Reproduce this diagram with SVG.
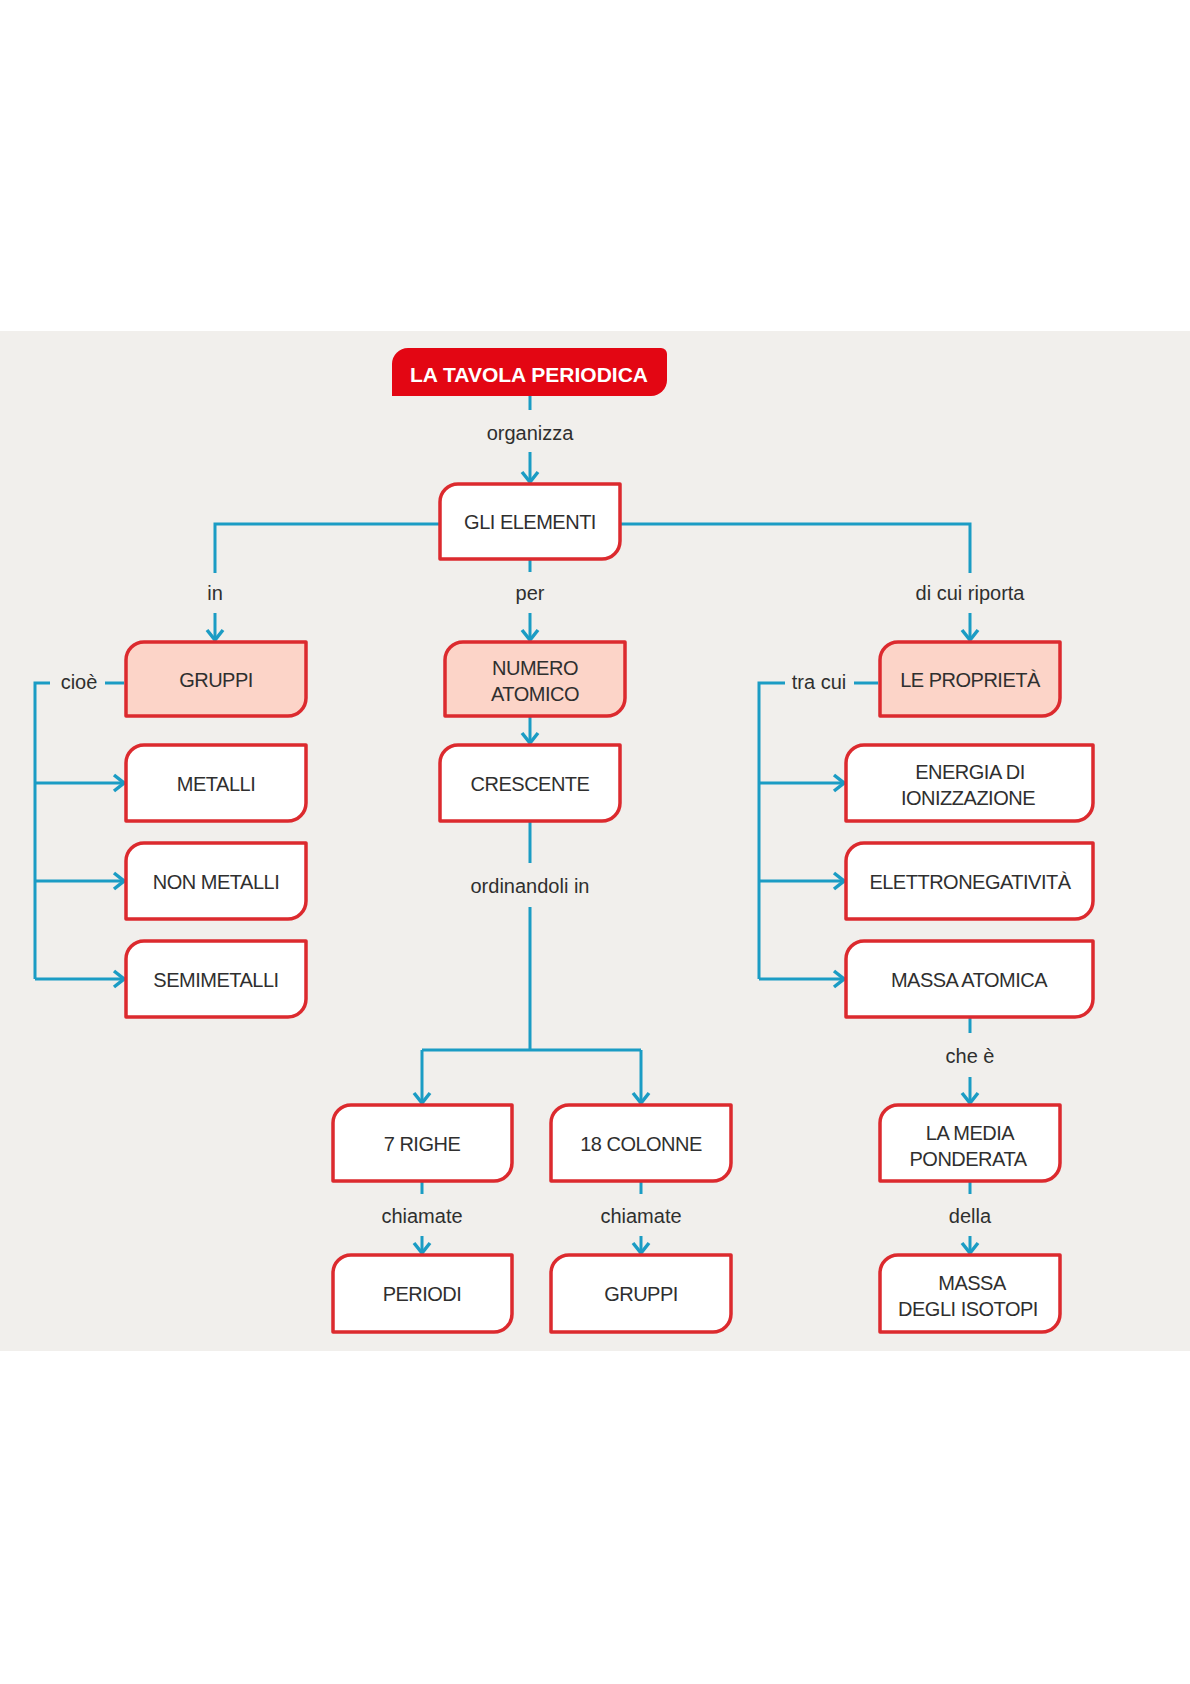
<svg xmlns="http://www.w3.org/2000/svg" width="1190" height="1684" viewBox="0 0 1190 1684">
<style>
.bg{fill:#f1efec}
.n{fill:#ffffff;stroke:#dc2a2e;stroke-width:3.5;stroke-linejoin:round}
.p{fill:#fcd4c8}
.t{font-family:"Liberation Sans",Arial,sans-serif;font-size:20px;fill:#2f2f2f;text-anchor:middle;letter-spacing:-0.5px}
.tt{font-family:"Liberation Sans",Arial,sans-serif;font-size:21px;font-weight:bold;fill:#ffffff;text-anchor:middle}
.l{font-family:"Liberation Sans",Arial,sans-serif;font-size:20px;fill:#2f2f2f;text-anchor:middle}
.c{fill:none;stroke:#1b9cc4;stroke-width:3}
.a{marker-end:url(#ah)}
</style>
<defs>
<marker id="ah" viewBox="0 0 14 20" refX="12" refY="10" markerWidth="14" markerHeight="20" orient="auto" markerUnits="userSpaceOnUse">
<path d="M2,2 L12,10 L2,18" fill="none" stroke="#1b9cc4" stroke-width="3.5"/>
</marker>
</defs>
<rect class="bg" x="0" y="331" width="1190" height="1020"/>

<g id="connectors">
<path class="c" d="M530,396 V410"/>
<path class="c a" d="M530,452 V482"/>
<path class="c" d="M440,524 H215 V573"/>
<path class="c a" d="M215,613 V640"/>
<path class="c" d="M620,524 H970 V573"/>
<path class="c a" d="M970,613 V640"/>
<path class="c" d="M530,559 V572"/>
<path class="c a" d="M530,613 V640"/>
<path class="c" d="M124,683 H105"/>
<path class="c" d="M50,683 H35 V979"/>
<path class="c a" d="M35,783 H124"/>
<path class="c a" d="M35,881 H124"/>
<path class="c a" d="M35,979 H124"/>
<path class="c" d="M878,683 H854"/>
<path class="c" d="M785,683 H759 V979"/>
<path class="c a" d="M759,783 H844"/>
<path class="c a" d="M759,881 H844"/>
<path class="c a" d="M759,979 H844"/>
<path class="c a" d="M530,716 V743"/>
<path class="c" d="M530,821 V863"/>
<path class="c" d="M530,907 V1050 M422,1050 H641"/>
<path class="c a" d="M422,1050 V1103"/>
<path class="c a" d="M641,1050 V1103"/>
<path class="c" d="M422,1182 V1194"/>
<path class="c a" d="M422,1236 V1253"/>
<path class="c" d="M641,1182 V1194"/>
<path class="c a" d="M641,1236 V1253"/>
<path class="c" d="M970,1017 V1033"/>
<path class="c a" d="M970,1077 V1103"/>
<path class="c" d="M970,1182 V1194"/>
<path class="c a" d="M970,1236 V1253"/>
<text class="l" x="530" y="440">organizza</text>
<text class="l" x="215" y="600">in</text>
<text class="l" x="530" y="600">per</text>
<text class="l" x="970" y="600">di cui riporta</text>
<text class="l" x="79" y="689">cioè</text>
<text class="l" x="819" y="689">tra cui</text>
<text class="l" x="530" y="893">ordinandoli in</text>
<text class="l" x="422" y="1223">chiamate</text>
<text class="l" x="641" y="1223">chiamate</text>
<text class="l" x="970" y="1063">che è</text>
<text class="l" x="970" y="1223">della</text>
</g>

<g id="n-title">
<path d="M392,396 V364 A16 16 0 0 1 408,348 H661 A6 6 0 0 1 667,354 V380 A16 16 0 0 1 651,396 Z" fill="#e30613"/>
<text class="tt" x="529" y="382">LA TAVOLA PERIODICA</text>
</g>
<g id="n-elementi">
<path class="n" d="M440,559 V502 A18 18 0 0 1 458,484 H620 V541 A18 18 0 0 1 602,559 Z"/>
<text class="t" x="530" y="529">GLI ELEMENTI</text>
</g>
<g id="n-gruppi">
<path class="n p" d="M126,716 V660 A18 18 0 0 1 144,642 H306 V698 A18 18 0 0 1 288,716 Z"/>
<text class="t" x="216" y="687">GRUPPI</text>
</g>
<g id="n-numero">
<path class="n p" d="M445,716 V660 A18 18 0 0 1 463,642 H625 V698 A18 18 0 0 1 607,716 Z"/>
<text class="t" x="535" y="675">NUMERO</text>
<text class="t" x="535" y="701">ATOMICO</text>
</g>
<g id="n-proprieta">
<path class="n p" d="M880,716 V660 A18 18 0 0 1 898,642 H1060 V698 A18 18 0 0 1 1042,716 Z"/>
<text class="t" x="970" y="687">LE PROPRIETÀ</text>
</g>
<g id="n-metalli">
<path class="n" d="M126,821 V763 A18 18 0 0 1 144,745 H306 V803 A18 18 0 0 1 288,821 Z"/>
<text class="t" x="216" y="791">METALLI</text>
</g>
<g id="n-nonmetalli">
<path class="n" d="M126,919 V861 A18 18 0 0 1 144,843 H306 V901 A18 18 0 0 1 288,919 Z"/>
<text class="t" x="216" y="889">NON METALLI</text>
</g>
<g id="n-semimetalli">
<path class="n" d="M126,1017 V959 A18 18 0 0 1 144,941 H306 V999 A18 18 0 0 1 288,1017 Z"/>
<text class="t" x="216" y="987">SEMIMETALLI</text>
</g>
<g id="n-crescente">
<path class="n" d="M440,821 V763 A18 18 0 0 1 458,745 H620 V803 A18 18 0 0 1 602,821 Z"/>
<text class="t" x="530" y="791">CRESCENTE</text>
</g>
<g id="n-energia">
<path class="n" d="M846,821 V763 A18 18 0 0 1 864,745 H1093 V803 A18 18 0 0 1 1075,821 Z"/>
<text class="t" x="970" y="779">ENERGIA DI</text>
<text class="t" x="968" y="805">IONIZZAZIONE</text>
</g>
<g id="n-elettronegativita">
<path class="n" d="M846,919 V861 A18 18 0 0 1 864,843 H1093 V901 A18 18 0 0 1 1075,919 Z"/>
<text class="t" x="970" y="889">ELETTRONEGATIVITÀ</text>
</g>
<g id="n-massa">
<path class="n" d="M846,1017 V959 A18 18 0 0 1 864,941 H1093 V999 A18 18 0 0 1 1075,1017 Z"/>
<text class="t" x="969" y="987">MASSA ATOMICA</text>
</g>
<g id="n-righe">
<path class="n" d="M333,1181 V1123 A18 18 0 0 1 351,1105 H512 V1163 A18 18 0 0 1 494,1181 Z"/>
<text class="t" x="422" y="1151">7 RIGHE</text>
</g>
<g id="n-colonne">
<path class="n" d="M551,1181 V1123 A18 18 0 0 1 569,1105 H731 V1163 A18 18 0 0 1 713,1181 Z"/>
<text class="t" x="641" y="1151">18 COLONNE</text>
</g>
<g id="n-media">
<path class="n" d="M880,1181 V1123 A18 18 0 0 1 898,1105 H1060 V1163 A18 18 0 0 1 1042,1181 Z"/>
<text class="t" x="970" y="1140">LA MEDIA</text>
<text class="t" x="968" y="1166">PONDERATA</text>
</g>
<g id="n-periodi">
<path class="n" d="M333,1332 V1273 A18 18 0 0 1 351,1255 H512 V1314 A18 18 0 0 1 494,1332 Z"/>
<text class="t" x="422" y="1301">PERIODI</text>
</g>
<g id="n-gruppi2">
<path class="n" d="M551,1332 V1273 A18 18 0 0 1 569,1255 H731 V1314 A18 18 0 0 1 713,1332 Z"/>
<text class="t" x="641" y="1301">GRUPPI</text>
</g>
<g id="n-isotopi">
<path class="n" d="M880,1332 V1273 A18 18 0 0 1 898,1255 H1060 V1314 A18 18 0 0 1 1042,1332 Z"/>
<text class="t" x="972" y="1290">MASSA</text>
<text class="t" x="968" y="1316">DEGLI ISOTOPI</text>
</g>
</svg>
